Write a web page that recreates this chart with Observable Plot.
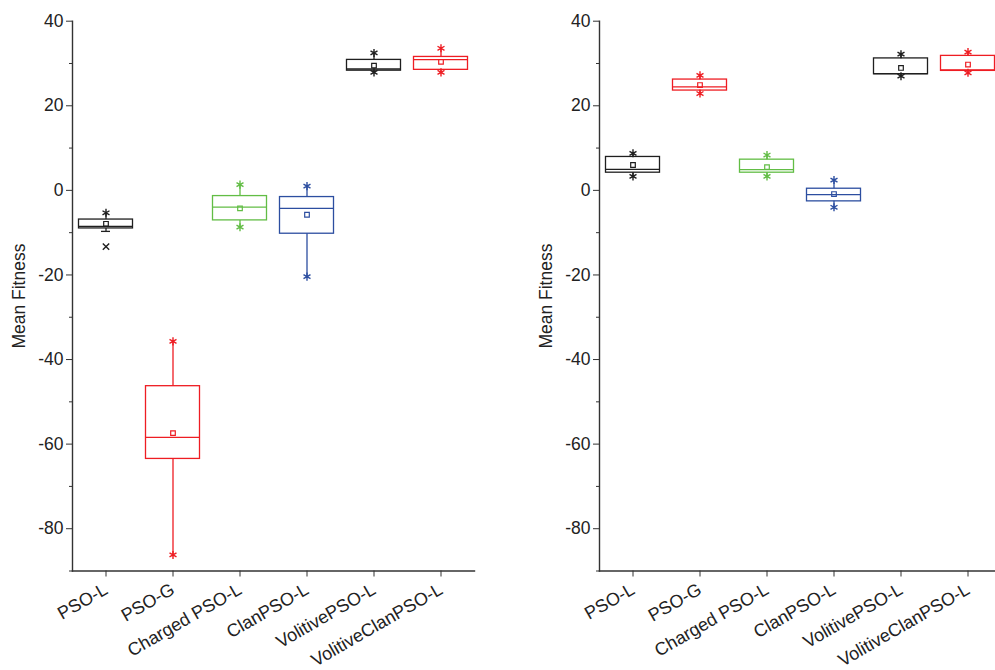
<!DOCTYPE html>
<html><head><meta charset="utf-8">
<script src="https://cdn.jsdelivr.net/npm/d3@7"></script>
<script src="https://cdn.jsdelivr.net/npm/@observablehq/plot@0.6"></script>
<style>
html,body{margin:0;padding:0;background:#fff;overflow:hidden;width:995px;height:670px}
#wrap{display:flex;width:1100px}
#wrap > *{flex:none}
</style></head><body><div id="wrap"></div>
<script>
const categories = ["PSO-L", "PSO-G", "Charged PSO-L", "ClanPSO-L", "VolitivePSO-L", "VolitiveClanPSO-L"];
const seriesColors = ["#1f1f1f", "#ee1d23", "#62bd45", "#2c4ea0", "#1f1f1f", "#ee1d23"];
const majorTicks = [-80, -60, -40, -20, 0, 20, 40];
const minorTicks = [-90, -70, -50, -30, -10, 10, 30];
const yLabel = "Mean Fitness";

// Left panel statistics
const leftQ1     = [-9.0, -63.5, -7.1, -10.25, 28.3, 28.5];
const leftMedian = [-8.5, -58.4, -3.95, -4.26, 28.7, 30.9];
const leftQ3     = [-6.9, -46.3, -1.35, -1.58, 30.85, 31.55];
const leftMean   = [-7.9, -57.4, -4.26, -5.76, 29.5, 30.4];
const leftWhiskerLow  = [-9.7, -86.2, -8.7, -20.4, 27.9, 27.9];
const leftWhiskerHigh = [-5.3, -35.7, 1.35, 1.0, 32.5, 33.6];
const leftStarLow  = [null, -86.2, -8.7, -20.4, 27.9, 27.9];
const leftStarHigh = [-5.3, -35.7, 1.35, 1.0, 32.5, 33.6];
const leftCapLow   = [-9.7, null, null, null, null, null];
const leftExtremes = [-13.3, null, null, null, null, null];

// Right panel statistics
const rightQ1     = [4.18, 23.6, 4.18, -2.6, 27.45, 28.25];
const rightMedian = [4.97, 24.45, 4.89, -1.0, 27.6, 28.5];
const rightQ3     = [7.9, 26.2, 7.26, 0.39, 31.2, 31.8];
const rightMean   = [6.0, 24.9, 5.5, -0.87, 28.95, 29.75];
const rightWhiskerLow  = [3.3, 22.9, 3.3, -4.0, 27.0, 27.8];
const rightWhiskerHigh = [8.76, 27.2, 8.36, 2.44, 32.2, 32.7];
const rightStarLow  = [3.3, 22.9, 3.3, -4.0, 27.0, 27.8];
const rightStarHigh = [8.76, 27.2, 8.36, 2.44, 32.2, 32.7];
const rightCapLow   = [null, null, null, null, null, null];
const rightExtremes = [null, null, null, null, null, null];

function panel(s) {
  const rows = categories.map((c, i) => ({
    cat: c, color: seriesColors[i],
    q1: s.q1[i], median: s.median[i], q3: s.q3[i], mean: s.mean[i],
    lo: s.lo[i], hi: s.hi[i]
  }));
  const pts = (arr) => categories.map((c, i) => ({cat: c, color: seriesColors[i], value: arr[i]})).filter(d => d.value != null);
  const stars = pts(s.starLow).concat(pts(s.starHigh));
  const caps = pts(s.capLow);
  const extremes = pts(s.extremes);
  const sw = 1.3;
  return Plot.plot({
    width: 527,
    height: 670,
    marginLeft: 72,
    marginRight: 53,
    marginTop: 20.7,
    marginBottom: 99.5,
    style: {fontFamily: "'Liberation Sans', Arial, sans-serif", fontSize: "17px", color: "#222", background: "white", overflow: "visible"},
    x: {domain: categories, padding: 0, type: "band"},
    y: {domain: [-90, 40]},
    color: {type: "identity"},
    marks: [
      Plot.ruleX(rows, {x: "cat", y1: "lo", y2: "q1", stroke: "color", strokeWidth: sw}),
      Plot.ruleX(rows, {x: "cat", y1: "q3", y2: "hi", stroke: "color", strokeWidth: sw}),
      Plot.barY(rows, {x: "cat", y1: "q1", y2: "q3", fill: "none", stroke: "color", strokeWidth: sw, insetLeft: 6.5, insetRight: 6.5}),
      Plot.tickY(rows, {x: "cat", y: "median", stroke: "color", strokeWidth: sw, inset: 6.5}),
      Plot.tickY(caps, {x: "cat", y: "value", stroke: "color", strokeWidth: sw, inset: 29}),
      Plot.dot(rows, {x: "cat", y: "mean", symbol: "square", r: 2.6, stroke: "color", fill: "none", strokeWidth: 1.2}),
      Plot.dot(stars, {x: "cat", y: "value", symbol: "asterisk", r: 3.8, stroke: "color", strokeWidth: 1.4}),
      Plot.dot(extremes, {x: "cat", y: "value", symbol: "times", r: 3, stroke: "color", strokeWidth: 1.4}),
      Plot.axisY({ticks: minorTicks, tickSize: 3, tickFormat: () => "", stroke: "#333", label: null}),
      Plot.axisY({ticks: majorTicks, tickSize: 6, tickPadding: 3, tickFormat: d => String(d), stroke: "#333", fill: "#222", fontSize: 17.5,
                  label: yLabel, labelAnchor: "center", labelOffset: 60, labelArrow: "none"}),
      Plot.axisX({tickSize: 6, tickRotate: -30, tickPadding: 11, stroke: "#333", fill: "#222", fontSize: 18, label: null}),
      Plot.frame({anchor: "left", stroke: "#333", strokeWidth: 1.4}),
      Plot.frame({anchor: "bottom", stroke: "#333", strokeWidth: 1.4})
    ]
  });
}

const wrap = document.getElementById("wrap");
wrap.append(panel({q1: leftQ1, median: leftMedian, q3: leftQ3, mean: leftMean, lo: leftWhiskerLow, hi: leftWhiskerHigh,
  starLow: leftStarLow, starHigh: leftStarHigh, capLow: leftCapLow, extremes: leftExtremes}));
wrap.append(panel({q1: rightQ1, median: rightMedian, q3: rightQ3, mean: rightMean, lo: rightWhiskerLow, hi: rightWhiskerHigh,
  starLow: rightStarLow, starHigh: rightStarHigh, capLow: rightCapLow, extremes: rightExtremes}));
</script></body></html>
